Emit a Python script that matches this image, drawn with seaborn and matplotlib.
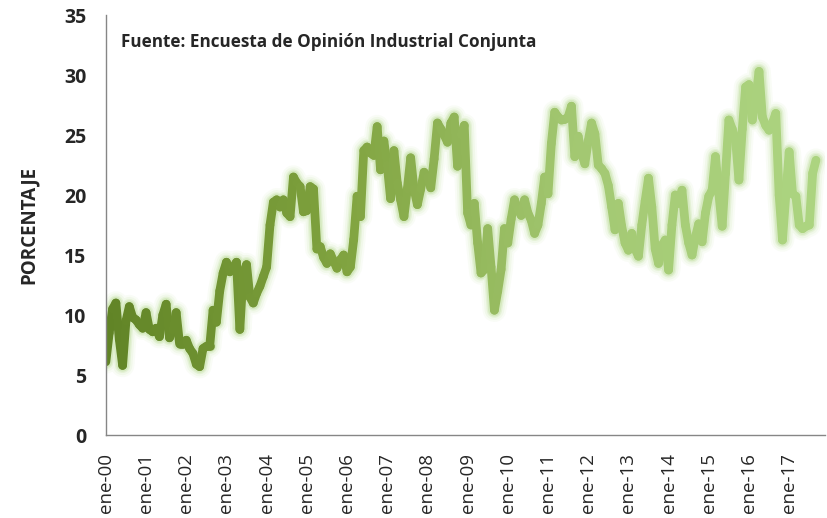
import numpy as np
import pandas as pd
import seaborn as sns
import matplotlib.pyplot as plt
from matplotlib.collections import LineCollection
from matplotlib.colors import LinearSegmentedColormap

# monthly values (ene-00 .. sep-17)
y2000 = [6.1, 8.5, 10.5, 11.0, 8.0, 5.8, 9.5, 10.7, 9.8, 9.6, 9.2, 8.9]
y2001 = [10.2, 8.8, 8.6, 8.9, 8.2, 10.0, 10.9, 8.1, 8.75, 10.2, 7.6, 7.6]
y2002 = [7.9, 7.2, 6.8, 5.9, 5.7, 7.2, 7.4, 7.4, 10.4, 9.4, 12.0, 13.5]
y2003 = [14.4, 13.6, 14.0, 14.4, 8.8, 13.5, 14.2, 11.5, 11.0, 11.8, 12.4, 13.2]
y2004 = [14.0, 17.5, 19.4, 19.6, 19.0, 19.6, 18.5, 18.2, 21.5, 21.0, 20.7, 18.6]
y2005 = [18.7, 20.7, 20.5, 15.5, 15.7, 14.8, 14.3, 15.1, 14.5, 13.9, 14.6, 15.0]
y2006 = [13.6, 14.0, 16.3, 19.9, 18.2, 23.7, 24.0, 23.5, 23.3, 25.7, 22.1, 24.5]
y2007 = [22.5, 19.7, 23.7, 21.0, 19.6, 18.2, 20.5, 23.1, 20.5, 19.2, 20.5, 21.9]
y2008 = [21.5, 20.6, 23.0, 26.0, 25.5, 25.0, 24.4, 26.0, 26.5, 22.4, 25.0, 25.8]
y2009 = [18.5, 17.5, 19.3, 16.0, 13.5, 13.8, 17.2, 14.0, 10.4, 12.0, 13.8, 17.2]
y2010 = [16.0, 18.0, 19.6, 18.8, 18.3, 19.6, 18.5, 17.9, 16.8, 17.5, 19.3, 21.5]
y2011 = [20.1, 24.3, 26.9, 26.5, 26.25, 26.3, 26.5, 27.4, 23.2, 24.9, 23.5, 22.6]
y2012 = [24.5, 26.0, 25.1, 22.5, 22.2, 21.8, 20.8, 19.0, 17.1, 19.3, 17.4, 16.0]
y2013 = [15.4, 16.8, 15.5, 14.9, 17.5, 19.5, 21.4, 19.0, 15.5, 14.3, 15.8, 16.25]
y2014 = [13.75, 17.5, 20.0, 19.3, 20.4, 17.5, 16.0, 15.0, 16.5, 17.6, 16.1, 18.5]
y2015 = [19.9, 20.4, 23.2, 20.1, 17.4, 21.8, 26.25, 25.5, 24.6, 21.25, 25.5, 29.0]
y2016 = [29.2, 26.25, 28.0, 30.3, 26.5, 25.8, 25.4, 26.0, 26.8, 20.0, 16.25, 20.0]
y2017 = [23.6, 20.1, 19.9, 17.5, 17.2, 17.4, 17.5, 21.8, 22.9]

years = list(range(2000, 2018))
tick_labels = ["ene-%02d" % (y % 100) for y in years]
y_ticks = [0, 5, 10, 15, 20, 25, 30, 35]

vals = (y2000 + y2001 + y2002 + y2003 + y2004 + y2005 + y2006 + y2007 + y2008
        + y2009 + y2010 + y2011 + y2012 + y2013 + y2014 + y2015 + y2016 + y2017)
df = pd.DataFrame({"mes": np.arange(len(vals)), "pct": vals})

sns.set_style("white")
plt.rcParams['font.family'] = ['Open Sans', 'DejaVu Sans']

fig = plt.figure(figsize=(8.27, 5.18), dpi=100)
ax = fig.add_axes([0.128, 0.1602, 0.8696, 0.8108])

# glow
for lw, a in [(17, 0.07), (14, 0.11), (11, 0.2), (9, 0.3)]:
    sns.lineplot(data=df, x="mes", y="pct", ax=ax, color="#b3d98a", lw=lw,
                 alpha=a, solid_joinstyle="round", solid_capstyle="round")

# core line with a dark -> light gradient
pts = df[["mes", "pct"]].to_numpy().reshape(-1, 1, 2)
segs = np.concatenate([pts[:-1], pts[1:]], axis=1)
cmap = LinearSegmentedColormap.from_list("g", ["#618426", "#80a33f", "#a3c872", "#acd480"])
lc = LineCollection(segs, cmap=cmap, linewidths=6.3, capstyle="round", joinstyle="round")
lc.set_array(np.linspace(0, 1, len(segs)))
ax.add_collection(lc)

ax.set_xlim(0, 214.7)
ax.set_ylim(0, 35)
ax.set_xticks([12 * i for i in range(len(years))])
ax.set_xticklabels(tick_labels, rotation=90, fontsize=13.5)
ax.set_yticks(y_ticks)
ax.set_yticklabels([str(t) for t in y_ticks], fontsize=14, fontweight="bold")
ax.set_xlabel("")
ax.set_ylabel("PORCENTAJE", fontsize=13.5, fontweight="bold", labelpad=18)

for s in ["top", "right"]:
    ax.spines[s].set_visible(False)
for s in ["left", "bottom"]:
    ax.spines[s].set_color("#868686")
    ax.spines[s].set_linewidth(1)
ax.tick_params(axis="both", direction="out", length=5, width=1, color="#868686", pad=4)
ax.tick_params(axis="x", pad=8)
ax.tick_params(axis="y", pad=9)

ax.text(0.021, 0.935, "Fuente: Encuesta de Opinión Industrial Conjunta", transform=ax.transAxes,
        fontsize=12.3, fontweight="bold", ha="left", va="center")

fig.savefig("out.png", dpi=100)
